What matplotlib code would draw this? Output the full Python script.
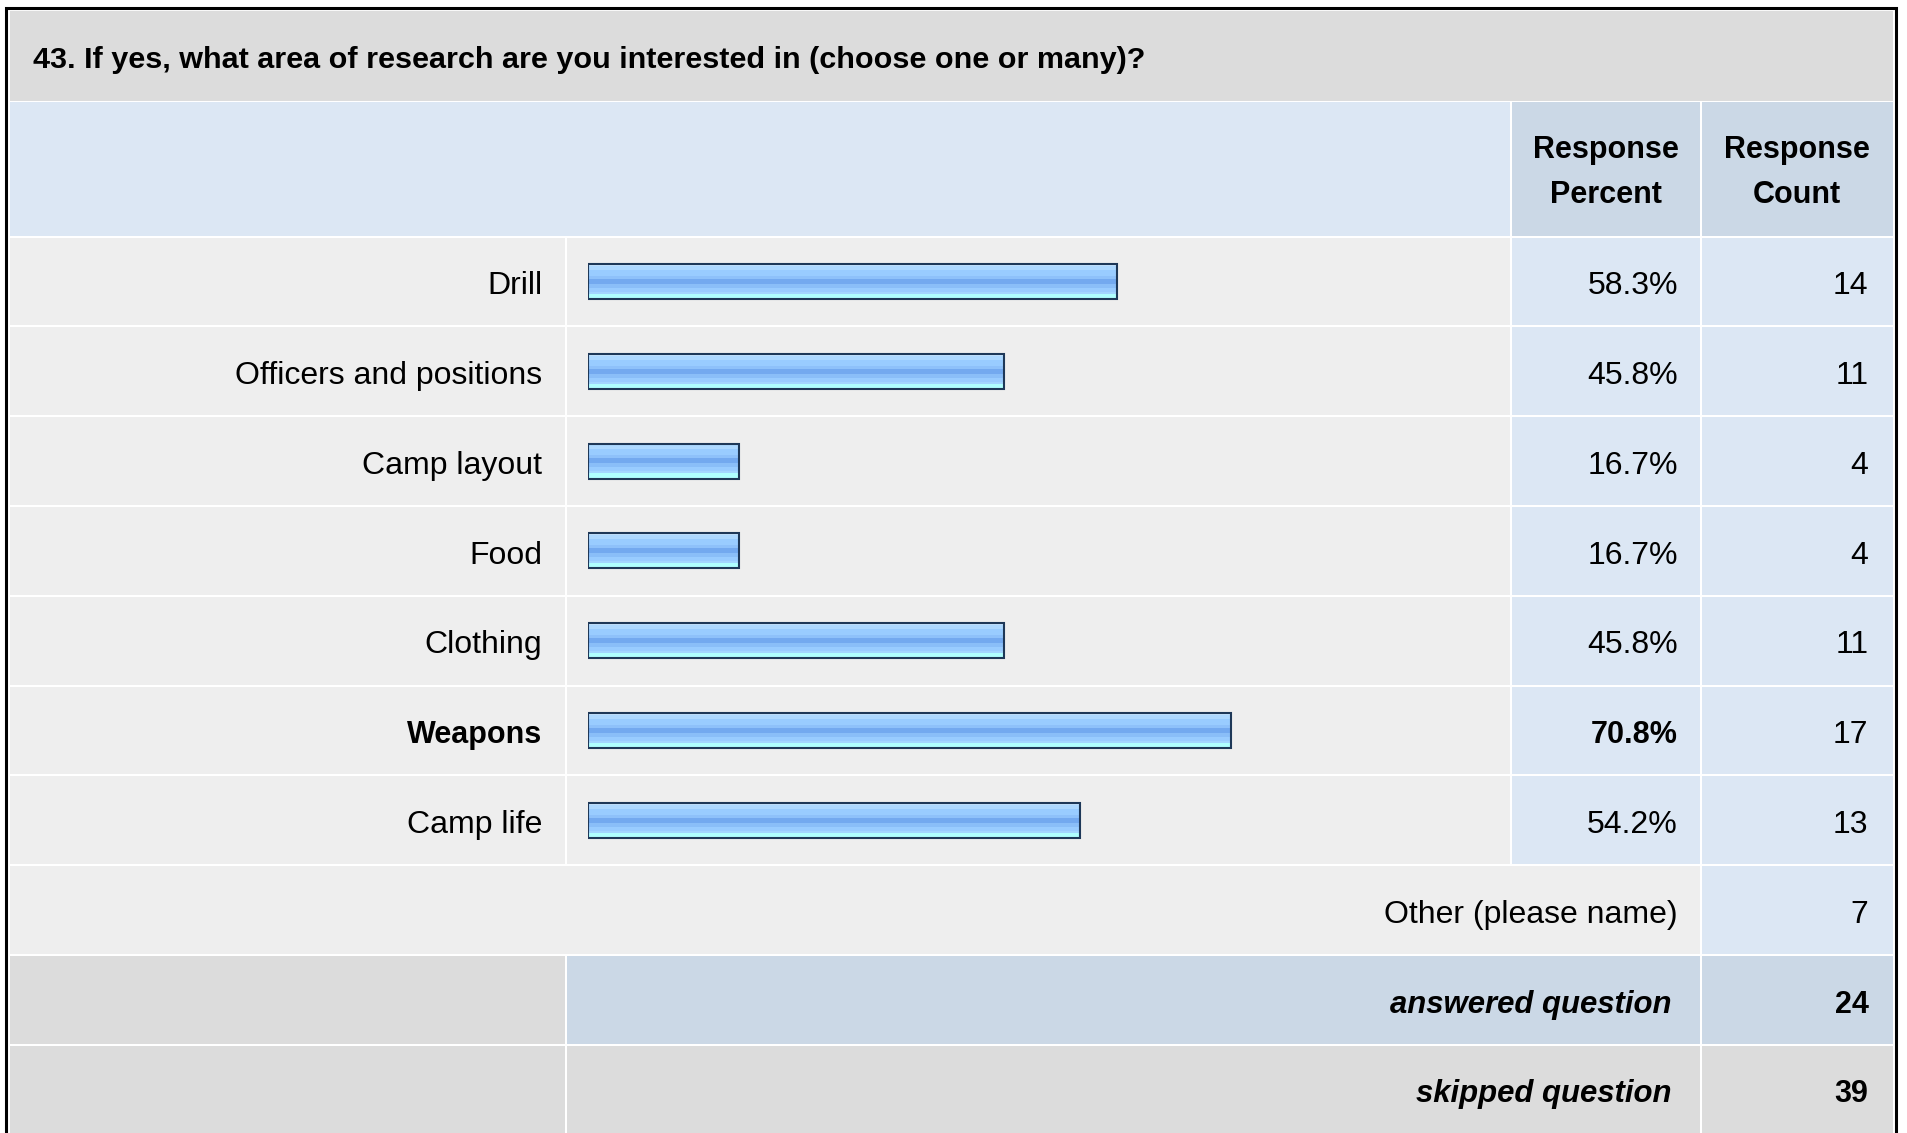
import matplotlib
matplotlib.use("Agg")
import matplotlib.pyplot as plt
from matplotlib.patches import Rectangle
from matplotlib.colors import to_rgb
from matplotlib import font_manager
import numpy as np

# ---------------- data ----------------
title = "43. If yes, what area of research are you interested in (choose one or many)?"
categories = ["Drill", "Officers and positions", "Camp layout", "Food",
              "Clothing", "Weapons", "Camp life"]
percents = [58.3, 45.8, 16.7, 16.7, 45.8, 70.8, 54.2]
counts = [14, 11, 4, 4, 11, 17, 13]
other_label = "Other (please name)"
other_count = 7
answered = 24
skipped = 39
header_cols = ["Response\nPercent", "Response\nCount"]

# ---------------- layout (pixels) ----------------
W, H = 1907, 1133
DPI = 100
plt.rcParams['font.family'] = ['Liberation Sans', 'DejaVu Sans']

try:
    font_manager.findfont('Liberation Sans Narrow', fallback_to_default=False)
    TITLE_FAMILY = ['Liberation Sans Narrow', 'Liberation Sans']
except Exception:
    TITLE_FAMILY = ['Liberation Sans', 'DejaVu Sans']

fig = plt.figure(figsize=(W / DPI, H / DPI), dpi=DPI, facecolor='white')
bg = fig.add_axes([0, 0, 1, 1])
bg.set_xlim(0, W)
bg.set_ylim(H, 0)
bg.axis('off')

X0, C1, C2, C3, X4 = 10, 565.5, 1510.5, 1700.5, 1893
TITLE_TOP, TITLE_BOT = 11, 100.5
HEAD_TOP, HEAD_BOT = 101.5, 235.5
ROW0 = 236.5
PITCH = 89.8

GRAY = '#DCDCDC'
LIGHT = '#EEEEEE'
BLUE = '#DCE7F4'
BLUE2 = '#CBD8E6'
NAVY = '#1E3858'


def cell(x1, x2, y1, y2, color):
    bg.add_patch(Rectangle((x1 + 1, y1 + 1), (x2 - x1) - 2, (y2 - y1) - 2,
                           facecolor=color, edgecolor='none', zorder=1))


# title band
cell(X0 - 1, X4 + 1, TITLE_TOP - 1, TITLE_BOT + 1, GRAY)
# header band
cell(X0 - 1, C2, HEAD_TOP - 1, HEAD_BOT + 1, BLUE)
cell(C2, C3, HEAD_TOP - 1, HEAD_BOT + 1, BLUE2)
cell(C3, X4 + 1, HEAD_TOP - 1, HEAD_BOT + 1, BLUE2)

n = len(categories)
rows_top = [ROW0 + PITCH * i for i in range(n + 3)]
for i in range(n):
    y1, y2 = rows_top[i], rows_top[i] + PITCH
    cell(X0 - 1, C1, y1, y2, LIGHT)
    cell(C1, C2, y1, y2, LIGHT)
    cell(C2, C3, y1, y2, BLUE)
    cell(C3, X4 + 1, y1, y2, BLUE)
# other row
y1 = rows_top[n]
cell(X0 - 1, C3, y1, y1 + PITCH, LIGHT)
cell(C3, X4 + 1, y1, y1 + PITCH, BLUE)
# answered row
y1 = rows_top[n + 1]
cell(X0 - 1, C1, y1, y1 + PITCH, GRAY)
cell(C1, C3, y1, y1 + PITCH, BLUE2)
cell(C3, X4 + 1, y1, y1 + PITCH, BLUE2)
# skipped row
y1 = rows_top[n + 2]
cell(X0 - 1, C1, y1, y1 + PITCH + 4, GRAY)
cell(C1, C3, y1, y1 + PITCH + 4, GRAY)
cell(C3, X4 + 1, y1, y1 + PITCH + 4, GRAY)

# outer border
bg.plot([5.5, 5.5, 1896, 1896], [H + 5, 8, 8, H + 5], color='black',
        lw=2.2, solid_joinstyle='miter', zorder=5)

FS = 23        # regular text
FSB = 22       # bold header text
FSI = 22.4     # bold italic summary text
BASE_OFF = 12.8

# title (fit to target width)
t = bg.text(33, 68, title, fontsize=19, fontweight='bold', ha='left',
            va='baseline', color='black', zorder=6, family=TITLE_FAMILY)
fig.canvas.draw()
wpx = t.get_window_extent().width
t.set_fontsize(19 * (1142 - 33) / wpx)

# header
for txt, cx in zip(header_cols, [(C2 + C3) / 2, (C3 + X4) / 2]):
    l1, l2 = txt.split("\n")
    bg.text(cx, 158.3, l1, fontsize=FSB, fontweight='bold', ha='center', va='baseline', zorder=6)
    bg.text(cx, 203.3, l2, fontsize=FSB, fontweight='bold', ha='center', va='baseline', zorder=6)

vmax = max(percents)
for i, (c, p, k) in enumerate(zip(categories, percents, counts)):
    yb = rows_top[i] + PITCH / 2 + BASE_OFF
    bold = p == vmax
    w = 'bold' if bold else 'normal'
    fs = FSB if bold else FS
    bg.text(542.5, yb, c, fontsize=fs, fontweight=w, ha='right', va='baseline', zorder=6)
    bg.text(1678, yb, f"{p:.1f}%", fontsize=fs, fontweight=w, ha='right', va='baseline', zorder=6)
    bg.text(1868.5, yb, str(k), fontsize=FS, ha='right', va='baseline', zorder=6)

yb = rows_top[n] + PITCH / 2 + BASE_OFF
bg.text(1678, yb, other_label, fontsize=FS, ha='right', va='baseline', zorder=6)
bg.text(1868.5, yb, str(other_count), fontsize=FS, ha='right', va='baseline', zorder=6)

for j, (lab, val) in enumerate([("answered question", answered), ("skipped question", skipped)]):
    yb = rows_top[n + 1 + j] + PITCH / 2 + BASE_OFF
    bg.text(1672, yb, lab, fontsize=FSI, fontweight='bold', fontstyle='italic',
            ha='right', va='baseline', zorder=6)
    bg.text(1868.5, yb, str(val), fontsize=FSB, fontweight='bold', ha='right', va='baseline', zorder=6)

# ---------------- bars ----------------
BAR_X0 = 587.7
PX_PER_100 = 908.0
top_px = ROW0
bot_px = ROW0 + PITCH * n
bax = fig.add_axes([BAR_X0 / W, (H - bot_px) / H, PX_PER_100 / W, (bot_px - top_px) / H])
bax.patch.set_alpha(0)
bax.axis('off')

stripes = (['#C6E4FF'] * 2 + ['#ADD8FF'] * 3 + ['#99CCFF'] * 6 + ['#8EC1FA'] * 2 +
           ['#73A9EF'] * 5 + ['#8ABEF8'] * 3 + ['#99CCFF'] * 4 + ['#A3D6FF'] * 2 +
           ['#AFFFFF'] * 4)
grad = np.array([to_rgb(c) for c in stripes]).reshape(len(stripes), 1, 3)

bh = 35 / PITCH
ypos = np.arange(n)
for i, p in enumerate(percents):
    bax.imshow(grad, extent=(0, p, i + bh / 2, i - bh / 2), origin='upper',
               aspect='auto', interpolation='nearest', zorder=2)
bax.barh(ypos, percents, height=bh, left=0, fill=False, edgecolor=NAVY,
         linewidth=1.5, zorder=3)
bax.set_xlim(0, 100)
bax.set_ylim(n - 0.5, -0.5)

fig.savefig("out.png", dpi=DPI, facecolor='white')
